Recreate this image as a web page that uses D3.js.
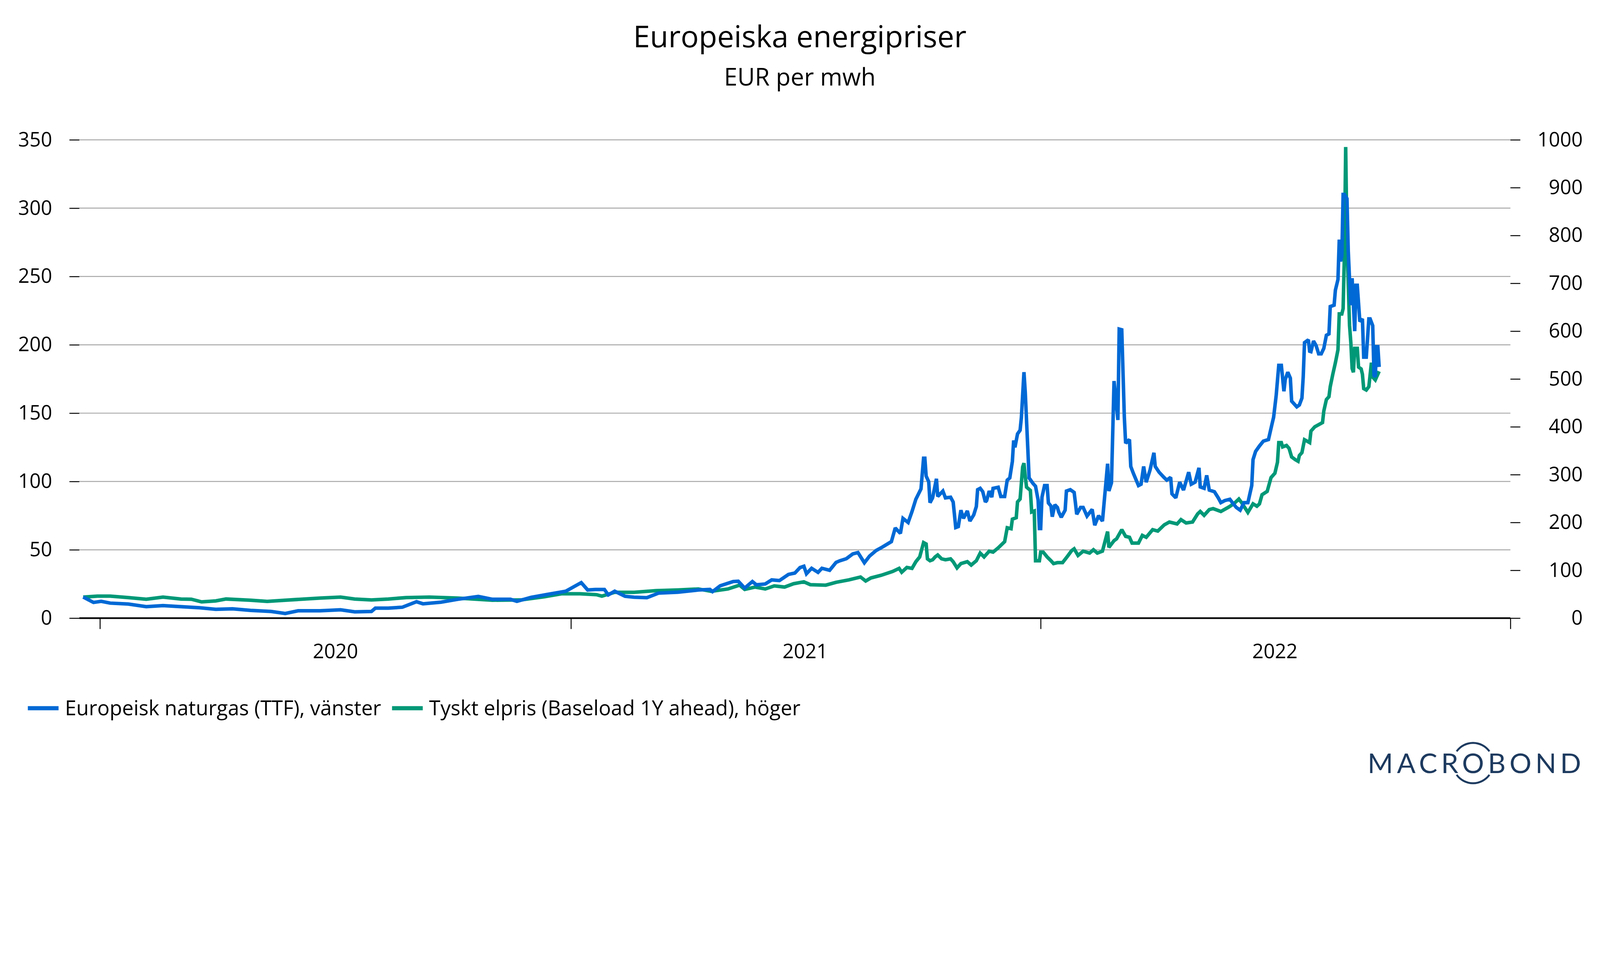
<!DOCTYPE html>
<html>
<head>
<meta charset="utf-8">
<script src="https://cdn.jsdelivr.net/npm/d3@7"></script>
<style>
  html, body { margin: 0; padding: 0; background: #fff; overflow: hidden; }
  svg { display: block; width: 100vw; height: calc(100vw * 2501 / 5001); }
  text { font-family: "Open Sans", Lato, sans-serif; fill: #000; }
</style>
</head>
<body>
<svg id="chart" viewBox="0 0 5001 2501" preserveAspectRatio="xMinYMin meet"></svg>
<script>
// TTF gas, EUR/MWh (left axis)
const gas = [
  ["2019-12-19", 15.5], ["2019-12-23", 13.5], ["2019-12-27", 11.5], ["2020-01-02", 12.3], ["2020-01-09", 11],
  ["2020-01-23", 10.3], ["2020-02-06", 8.4], ["2020-02-19", 9.2], ["2020-03-04", 8.4], ["2020-03-17", 7.7],
  ["2020-03-31", 6.5], ["2020-04-13", 6.8], ["2020-04-27", 5.7], ["2020-05-13", 4.9], ["2020-05-24", 3.4],
  ["2020-06-03", 5.4], ["2020-06-20", 5.4], ["2020-07-06", 6.1], ["2020-07-17", 4.6], ["2020-07-30", 4.9],
  ["2020-08-02", 7.3], ["2020-08-12", 7.3], ["2020-08-23", 8], ["2020-09-03", 12], ["2020-09-08", 10.5],
  ["2020-09-22", 11.7], ["2020-10-05", 13.8], ["2020-10-21", 15.9], ["2020-11-01", 13.8], ["2020-11-15", 13.8],
  ["2020-11-20", 12.3], ["2020-12-01", 15.2], ["2020-12-14", 17.4], ["2020-12-28", 19.7], ["2021-01-09", 26],
  ["2021-01-14", 20.6], ["2021-01-20", 21], ["2021-01-27", 21], ["2021-01-30", 17], ["2021-02-04", 19.7],
  ["2021-02-12", 16], ["2021-02-19", 15.3], ["2021-03-01", 15], ["2021-03-10", 18.3], ["2021-03-25", 19],
  ["2021-04-10", 20.6], ["2021-04-19", 21], ["2021-04-21", 19.4], ["2021-04-27", 23.7], ["2021-05-07", 26.8],
  ["2021-05-11", 27], ["2021-05-16", 22], ["2021-05-22", 26.8], ["2021-05-25", 24.4], ["2021-06-01", 25],
  ["2021-06-06", 28], ["2021-06-12", 27.5], ["2021-06-19", 32], ["2021-06-24", 33], ["2021-06-28", 37],
  ["2021-07-01", 38], ["2021-07-03", 32.5], ["2021-07-07", 36.5], ["2021-07-12", 33.5], ["2021-07-15", 36.5],
  ["2021-07-21", 35], ["2021-07-26", 40.8], ["2021-07-29", 42], ["2021-08-03", 43.5], ["2021-08-08", 47],
  ["2021-08-12", 48], ["2021-08-17", 40.5], ["2021-08-21", 45.4], ["2021-08-26", 49.4], ["2021-08-31", 52],
  ["2021-09-07", 56], ["2021-09-10", 66], ["2021-09-14", 62], ["2021-09-16", 73], ["2021-09-20", 70],
  ["2021-09-23", 78], ["2021-09-26", 87], ["2021-09-30", 94.6], ["2021-10-02", 117], ["2021-10-03", 117],
  ["2021-10-04", 104], ["2021-10-06", 99.8], ["2021-10-07", 84.5], ["2021-10-09", 88], ["2021-10-12", 102],
  ["2021-10-13", 89], ["2021-10-17", 93], ["2021-10-19", 88], ["2021-10-23", 88.5], ["2021-10-25", 85],
  ["2021-10-27", 66.3], ["2021-10-29", 67], ["2021-10-31", 79], ["2021-11-02", 73], ["2021-11-05", 78.5],
  ["2021-11-07", 71], ["2021-11-10", 75.6], ["2021-11-12", 81.7], ["2021-11-13", 94], ["2021-11-15", 95],
  ["2021-11-17", 92.5], ["2021-11-19", 85], ["2021-11-20", 86], ["2021-11-22", 93], ["2021-11-24", 88.5],
  ["2021-11-25", 95], ["2021-11-29", 95.8], ["2021-12-01", 89], ["2021-12-04", 89], ["2021-12-06", 101],
  ["2021-12-08", 102.6], ["2021-12-10", 114.7], ["2021-12-11", 130], ["2021-12-12", 125], ["2021-12-14", 134.8],
  ["2021-12-16", 137.5], ["2021-12-17", 146.8], ["2021-12-19", 180], ["2021-12-20", 165.6], ["2021-12-22", 124],
  ["2021-12-23", 102.6], ["2021-12-26", 98.6], ["2021-12-28", 96.5], ["2021-12-30", 86.4], ["2021-12-31", 65.6],
  ["2022-01-01", 65.6], ["2022-01-02", 88.5], ["2022-01-04", 97], ["2022-01-06", 97], ["2022-01-07", 84.3],
  ["2022-01-09", 82], ["2022-01-10", 74.2], ["2022-01-12", 83], ["2022-01-14", 81], ["2022-01-15", 77.7],
  ["2022-01-17", 73.8], ["2022-01-20", 79], ["2022-01-21", 93], ["2022-01-24", 94], ["2022-01-27", 92],
  ["2022-01-28", 84.3], ["2022-01-29", 76], ["2022-02-01", 81], ["2022-02-03", 81], ["2022-02-06", 74.7],
  ["2022-02-10", 79.6], ["2022-02-12", 68], ["2022-02-15", 75], ["2022-02-18", 71], ["2022-02-22", 113],
  ["2022-02-23", 93], ["2022-02-25", 99], ["2022-02-27", 173.5], ["2022-03-02", 145], ["2022-03-03", 211.5],
  ["2022-03-05", 211], ["2022-03-07", 147], ["2022-03-08", 128], ["2022-03-11", 130.7], ["2022-03-12", 111],
  ["2022-03-14", 106], ["2022-03-18", 97], ["2022-03-20", 98], ["2022-03-22", 111], ["2022-03-24", 99.5],
  ["2022-03-27", 108.5], ["2022-03-30", 121], ["2022-03-31", 111], ["2022-04-03", 106.8], ["2022-04-07", 102.8],
  ["2022-04-09", 101], ["2022-04-12", 103], ["2022-04-13", 91], ["2022-04-16", 88], ["2022-04-19", 99.5],
  ["2022-04-22", 93.7], ["2022-04-26", 106.8], ["2022-04-28", 98], ["2022-05-01", 99.5], ["2022-05-04", 110],
  ["2022-05-05", 96], ["2022-05-08", 95], ["2022-05-10", 104.5], ["2022-05-12", 93.7], ["2022-05-16", 92.5],
  ["2022-05-19", 88], ["2022-05-21", 84.5], ["2022-05-24", 86], ["2022-05-28", 87], ["2022-05-30", 84.5],
  ["2022-06-02", 81], ["2022-06-05", 79], ["2022-06-08", 84.5], ["2022-06-11", 84.5], ["2022-06-14", 97],
  ["2022-06-15", 116], ["2022-06-17", 122], ["2022-06-20", 126], ["2022-06-23", 129.5], ["2022-06-27", 130.7],
  ["2022-06-30", 143], ["2022-07-01", 147], ["2022-07-03", 163], ["2022-07-05", 185], ["2022-07-07", 185],
  ["2022-07-09", 166], ["2022-07-10", 174.5], ["2022-07-12", 180], ["2022-07-14", 175.6], ["2022-07-15", 158.8],
  ["2022-07-19", 154.6], ["2022-07-21", 156], ["2022-07-23", 161], ["2022-07-24", 176.6], ["2022-07-25", 201.6],
  ["2022-07-28", 203.7], ["2022-07-29", 195.3], ["2022-07-30", 195], ["2022-08-01", 202.8], ["2022-08-03", 199.5],
  ["2022-08-05", 193.4], ["2022-08-07", 193.4], ["2022-08-09", 197.4], ["2022-08-11", 207], ["2022-08-13", 208],
  ["2022-08-14", 228], ["2022-08-17", 229], ["2022-08-18", 240], ["2022-08-20", 247.8], ["2022-08-21", 277],
  ["2022-08-22", 261], ["2022-08-23", 265], ["2022-08-24", 310], ["2022-08-25", 310], ["2022-08-27", 307],
  ["2022-08-28", 268.6], ["2022-08-29", 247.8], ["2022-08-30", 229], ["2022-08-31", 248.7], ["2022-09-01", 229],
  ["2022-09-02", 210], ["2022-09-03", 243.6], ["2022-09-04", 243.6], ["2022-09-06", 217], ["2022-09-08", 219],
  ["2022-09-09", 191], ["2022-09-11", 191], ["2022-09-13", 219], ["2022-09-14", 219], ["2022-09-16", 214],
  ["2022-09-17", 177.7], ["2022-09-18", 176.6], ["2022-09-19", 198.6], ["2022-09-20", 198.6], ["2022-09-21", 183.8]
];

// German baseload 1Y ahead, EUR/MWh (right axis)
const power = [
  ["2019-12-19", 44], ["2019-12-30", 46], ["2020-01-09", 46], ["2020-01-23", 43], ["2020-02-06", 39.5],
  ["2020-02-19", 44], ["2020-03-04", 40], ["2020-03-12", 39.5], ["2020-03-20", 34], ["2020-03-31", 36],
  ["2020-04-08", 40], ["2020-04-27", 37.5], ["2020-05-10", 35], ["2020-05-24", 37.5], ["2020-06-20", 42],
  ["2020-07-06", 44], ["2020-07-17", 40], ["2020-07-30", 38], ["2020-08-12", 40], ["2020-08-26", 43],
  ["2020-09-13", 44], ["2020-10-05", 42], ["2020-11-01", 37.5], ["2020-11-23", 38], ["2020-12-11", 44.5],
  ["2020-12-25", 51], ["2021-01-08", 51], ["2021-01-21", 49], ["2021-01-25", 46], ["2021-02-04", 54],
  ["2021-02-19", 54], ["2021-03-08", 57.5], ["2021-03-25", 59], ["2021-04-10", 61], ["2021-04-20", 56],
  ["2021-05-03", 61], ["2021-05-12", 69], ["2021-05-16", 60], ["2021-05-24", 65], ["2021-06-01", 61],
  ["2021-06-08", 67.5], ["2021-06-16", 65], ["2021-06-23", 72], ["2021-07-01", 76], ["2021-07-06", 70],
  ["2021-07-18", 69], ["2021-07-26", 75], ["2021-08-05", 80], ["2021-08-14", 86], ["2021-08-18", 77.6],
  ["2021-08-22", 84], ["2021-08-30", 89.6], ["2021-09-08", 97.6], ["2021-09-13", 104], ["2021-09-15", 96],
  ["2021-09-19", 106], ["2021-09-23", 104], ["2021-09-26", 118], ["2021-09-29", 128], ["2021-10-02", 158],
  ["2021-10-04", 155], ["2021-10-05", 124], ["2021-10-07", 120], ["2021-10-09", 122], ["2021-10-11", 128],
  ["2021-10-13", 132], ["2021-10-16", 124], ["2021-10-19", 122], ["2021-10-23", 124], ["2021-10-25", 118],
  ["2021-10-28", 105], ["2021-10-31", 114], ["2021-11-05", 118], ["2021-11-08", 111], ["2021-11-12", 120],
  ["2021-11-15", 136], ["2021-11-18", 128], ["2021-11-22", 140], ["2021-11-25", 138], ["2021-11-29", 147],
  ["2021-12-04", 160], ["2021-12-06", 189], ["2021-12-09", 187], ["2021-12-10", 207], ["2021-12-13", 210],
  ["2021-12-14", 243], ["2021-12-16", 249], ["2021-12-18", 316], ["2021-12-19", 324], ["2021-12-20", 297],
  ["2021-12-21", 274], ["2021-12-24", 267], ["2021-12-25", 222], ["2021-12-27", 224], ["2021-12-28", 120],
  ["2021-12-31", 120], ["2022-01-01", 138], ["2022-01-03", 138], ["2022-01-06", 128], ["2022-01-09", 120],
  ["2022-01-11", 114], ["2022-01-14", 116], ["2022-01-18", 116], ["2022-01-22", 130], ["2022-01-25", 141],
  ["2022-01-27", 145], ["2022-01-30", 131], ["2022-02-03", 140], ["2022-02-08", 136], ["2022-02-11", 143],
  ["2022-02-14", 136], ["2022-02-18", 140], ["2022-02-22", 181], ["2022-02-23", 148], ["2022-02-27", 162],
  ["2022-03-01", 166], ["2022-03-05", 185], ["2022-03-08", 171], ["2022-03-11", 169], ["2022-03-13", 157],
  ["2022-03-18", 157], ["2022-03-21", 173], ["2022-03-24", 169], ["2022-03-29", 185], ["2022-04-02", 182],
  ["2022-04-07", 195], ["2022-04-11", 201], ["2022-04-17", 197], ["2022-04-20", 206], ["2022-04-24", 199],
  ["2022-04-29", 201], ["2022-05-03", 218], ["2022-05-05", 223], ["2022-05-08", 215], ["2022-05-12", 227],
  ["2022-05-15", 229], ["2022-05-21", 223], ["2022-05-27", 232], ["2022-05-31", 239], ["2022-06-04", 249],
  ["2022-06-06", 242], ["2022-06-11", 221], ["2022-06-15", 239], ["2022-06-18", 234], ["2022-06-20", 239],
  ["2022-06-22", 258], ["2022-06-26", 265], ["2022-06-29", 294], ["2022-07-02", 303], ["2022-07-04", 326],
  ["2022-07-05", 367], ["2022-07-07", 367], ["2022-07-08", 358], ["2022-07-11", 361], ["2022-07-13", 355],
  ["2022-07-15", 337], ["2022-07-18", 331], ["2022-07-20", 328], ["2022-07-21", 340], ["2022-07-23", 346],
  ["2022-07-25", 373], ["2022-07-29", 367], ["2022-07-30", 391], ["2022-08-02", 400], ["2022-08-08", 409],
  ["2022-08-09", 433], ["2022-08-11", 457], ["2022-08-13", 463], ["2022-08-14", 484], ["2022-08-16", 510],
  ["2022-08-18", 534], ["2022-08-20", 561], ["2022-08-21", 636], ["2022-08-23", 636], ["2022-08-24", 647],
  ["2022-08-25", 760], ["2022-08-26", 985], ["2022-08-27", 785], ["2022-08-29", 612], ["2022-08-30", 576],
  ["2022-08-31", 522], ["2022-09-01", 514], ["2022-09-02", 564], ["2022-09-04", 564], ["2022-09-05", 525],
  ["2022-09-07", 521], ["2022-09-08", 510], ["2022-09-09", 480], ["2022-09-11", 477], ["2022-09-13", 484],
  ["2022-09-15", 534], ["2022-09-16", 504], ["2022-09-18", 498], ["2022-09-19", 504], ["2022-09-21", 516]
];

const leftTicks = [0, 50, 100, 150, 200, 250, 300, 350];
const rightTicks = [0, 100, 200, 300, 400, 500, 600, 700, 800, 900, 1000];
const yearTicks = ["2020-01-01", "2021-01-01", "2022-01-01", "2023-01-01"];
const yearLabels = ["2020", "2021", "2022"];
const seriesNames = ["Europeisk naturgas (TTF), vänster", "Tyskt elpris (Baseload 1Y ahead), höger"];
const colors = ["#0069d5", "#009877"];

const parse = d3.timeParse("%Y-%m-%d");
const width = 5001;
const height = 2501;
const margin = { left: 248, right: 280, top: 437, bottom: 569 };
const plotBottom = height - margin.bottom;

const svg = d3.select("#chart");
svg.append("rect").attr("width", width).attr("height", height).attr("fill", "#fff");

const x = d3
  .scaleTime()
  .domain([parse("2019-12-16"), parse("2023-01-01")])
  .range([margin.left, width - margin.right]);

const yLeft = d3.scaleLinear().domain([0, 350]).range([plotBottom, margin.top]);
const yRight = d3.scaleLinear().domain([0, 1000]).range([plotBottom, margin.top]);

// title
svg.append("text")
  .attr("x", 2500).attr("y", 148)
  .attr("text-anchor", "middle")
  .style("font-size", "94px")
  .text("Europeiska energipriser");
svg.append("text")
  .attr("x", 2500).attr("y", 267)
  .attr("text-anchor", "middle")
  .style("font-size", "75px")
  .text("EUR per mwh");

// gridlines
svg.append("g")
  .selectAll("line")
  .data(leftTicks)
  .join("line")
  .attr("x1", margin.left)
  .attr("x2", width - margin.right)
  .attr("y1", (d) => yLeft(d))
  .attr("y2", (d) => yLeft(d))
  .attr("stroke", "#a8a8a8")
  .attr("stroke-width", 3);

// left axis
const gLeft = svg.append("g")
  .attr("transform", `translate(${margin.left},0)`)
  .call(d3.axisLeft(yLeft).tickValues(leftTicks).tickSize(31).tickPadding(54).tickFormat(d3.format("d")));
gLeft.select(".domain").remove();
gLeft.selectAll("line").attr("stroke", "#000").attr("stroke-width", 3);
gLeft.selectAll("text").style("font-size", "62px").style("font-family", "Open Sans");

// right axis
const gRight = svg.append("g")
  .attr("transform", `translate(${width - margin.right},0)`)
  .call(d3.axisRight(yRight).tickValues(rightTicks).tickSize(31).tickFormat(d3.format("d")));
gRight.select(".domain").remove();
gRight.selectAll("line").attr("stroke", "#000").attr("stroke-width", 3);
gRight.selectAll("text")
  .attr("x", 226)
  .attr("text-anchor", "end")
  .style("font-size", "62px")
  .style("font-family", "Open Sans");

// x axis
const gX = svg.append("g")
  .attr("transform", `translate(0,${plotBottom})`)
  .call(d3.axisBottom(x).tickValues(yearTicks.map(parse)).tickSize(34).tickFormat(""));
gX.select(".domain").remove();
gX.selectAll("line").attr("stroke", "#000").attr("stroke-width", 3);
svg.append("line")
  .attr("x1", margin.left).attr("x2", width - margin.right)
  .attr("y1", plotBottom).attr("y2", plotBottom)
  .attr("stroke", "#000").attr("stroke-width", 5);

svg.append("g")
  .selectAll("text")
  .data(yearLabels)
  .join("text")
  .attr("x", (d) => x(parse(d + "-07-02")))
  .attr("y", 2057)
  .attr("text-anchor", "middle")
  .style("font-size", "62px")
  .text((d) => d);

// lines
const lineGas = d3.line().x((d) => x(parse(d[0]))).y((d) => yLeft(d[1]));
const linePower = d3.line().x((d) => x(parse(d[0]))).y((d) => yRight(d[1]));

svg.append("path")
  .datum(power)
  .attr("d", linePower)
  .attr("fill", "none")
  .attr("stroke", colors[1])
  .attr("stroke-width", 11)
  .attr("stroke-linejoin", "miter")
  .attr("stroke-miterlimit", 2);

svg.append("path")
  .datum(gas)
  .attr("d", lineGas)
  .attr("fill", "none")
  .attr("stroke", colors[0])
  .attr("stroke-width", 11)
  .attr("stroke-linejoin", "miter")
  .attr("stroke-miterlimit", 2);

// legend
const legend = svg.append("g");
let lx = 87;
seriesNames.forEach((name, i) => {
  legend.append("rect")
    .attr("x", lx).attr("y", 2207)
    .attr("width", 96).attr("height", 13)
    .attr("fill", colors[i]);
  const t = legend.append("text")
    .attr("x", lx + 116).attr("y", 2236)
    .style("font-size", "64px")
    .text(name);
  lx = lx + 116 + t.node().getComputedTextLength() + 34;
});

// logo
const navy = "#1d3a5f";
const logo = svg.append("text")
  .attr("x", 4954).attr("y", 2416)
  .attr("text-anchor", "end")
  .style("font-family", "Lato")
  .style("font-size", "86px")
  .style("letter-spacing", "12px")
  .style("fill", navy)
  .text("MACROBOND");
const ob = logo.node().getExtentOfChar(4);
const ocx = ob.x + (ob.width - 12) / 2;
const ocy = 2385;
const arc = d3.arc().innerRadius(60).outerRadius(66);
svg.append("path")
  .attr("transform", `translate(${ocx},${ocy})`)
  .attr("d", arc({ startAngle: -0.95, endAngle: 0.95 }))
  .attr("fill", navy);
svg.append("path")
  .attr("transform", `translate(${ocx},${ocy})`)
  .attr("d", arc({ startAngle: Math.PI - 0.95, endAngle: Math.PI + 0.95 }))
  .attr("fill", navy);
</script>
</body>
</html>
